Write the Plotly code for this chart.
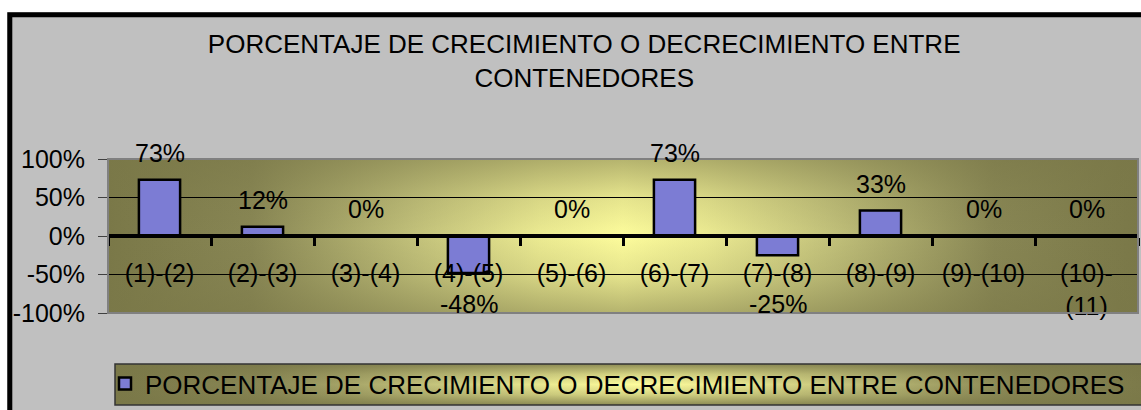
import base64
import plotly.graph_objects as go

# ---------------- data ----------------
categories = ["(1)-(2)", "(2)-(3)", "(3)-(4)", "(4)-(5)", "(5)-(6)",
              "(6)-(7)", "(7)-(8)", "(8)-(9)", "(9)-(10)", "(10)-(11)"]
tick_labels = ["(1)-(2)", "(2)-(3)", "(3)-(4)", "(4)-(5)", "(5)-(6)",
               "(6)-(7)", "(7)-(8)", "(8)-(9)", "(9)-(10)", "(10)-<br>(11)"]
values = [0.73, 0.12, 0.0, -0.48, 0.0, 0.73, -0.25, 0.33, 0.0, 0.0]
series_name = "PORCENTAJE DE CRECIMIENTO O DECRECIMIENTO ENTRE CONTENEDORES"
title_text = "PORCENTAJE DE CRECIMIENTO O DECRECIMIENTO ENTRE<br>CONTENEDORES"
y_tickvals = [-1, -0.5, 0, 0.5, 1]
y_ticktext = ["-100%", "-50%", "0%", "50%", "100%"]

# ---------------- layout geometry (pixels) ----------------
W, H = 1141, 410
ML, MR, MT, MB = 108, 3, 159, 97
PW, PH = W - ML - MR, H - MT - MB
FONT = "Liberation Sans, Arial, sans-serif"


def px_x(px):
    return (px - ML) / PW


def px_y(py):
    return (H - MB - py) / PH


def gradient_uri(edge, center, v_edge_op, v_mid_op):
    svg = f'''<svg xmlns="http://www.w3.org/2000/svg" width="1000" height="1000" viewBox="0 0 1000 1000" preserveAspectRatio="none">
<defs>
<linearGradient id="h" x1="0" y1="0" x2="1" y2="0">
<stop offset="0" stop-color="{edge}"/>
<stop offset="0.14" stop-color="#888654"/>
<stop offset="0.3" stop-color="#c3c27b"/>
<stop offset="0.42" stop-color="#eceb92"/>
<stop offset="0.5" stop-color="{center}"/>
<stop offset="0.58" stop-color="#eceb92"/>
<stop offset="0.7" stop-color="#c3c27b"/>
<stop offset="0.86" stop-color="#888654"/>
<stop offset="1" stop-color="{edge}"/>
</linearGradient>
<linearGradient id="v" x1="0" y1="0" x2="0" y2="1">
<stop offset="0" stop-color="{edge}" stop-opacity="{v_edge_op}"/>
<stop offset="0.25" stop-color="{edge}" stop-opacity="{v_mid_op}"/>
<stop offset="0.5" stop-color="{edge}" stop-opacity="0"/>
<stop offset="0.75" stop-color="{edge}" stop-opacity="{v_mid_op}"/>
<stop offset="1" stop-color="{edge}" stop-opacity="{v_edge_op}"/>
</linearGradient>
</defs>
<rect x="0" y="0" width="1000" height="1000" fill="url(#h)"/>
<rect x="0" y="0" width="1000" height="1000" fill="url(#v)"/>
</svg>'''
    return "data:image/svg+xml;base64," + base64.b64encode(svg.encode()).decode()


EDGE, CENTER = "#7a7848", "#fdfc9c"
BAR_COLOR = "#7c7cd4"

fig = go.Figure()
fig.add_trace(go.Bar(
    x=categories, y=values, name=series_name,
    marker=dict(color=BAR_COLOR, line=dict(color="black", width=2.5)),
    width=0.4, showlegend=True,
))

# data labels
NEG_LABEL_Y = -0.885
annotations = []
for c, v in zip(categories, values):
    txt = f"{round(v * 100)}%"
    if v >= 0:
        annotations.append(dict(x=c, y=v, xref="x", yref="y", text=txt, showarrow=False,
                                yanchor="middle", yshift=27,
                                font=dict(family=FONT, size=25, color="black")))
    else:
        annotations.append(dict(x=c, y=min(v, NEG_LABEL_Y), xref="x", yref="y", text=txt,
                                showarrow=False, yanchor="middle", yshift=0,
                                font=dict(family=FONT, size=25, color="black")))

shapes = [
    # white margins outside the chart border
    dict(type="rect", xref="paper", yref="paper", x0=px_x(-50), x1=px_x(7.3),
         y0=px_y(500), y1=px_y(-50), fillcolor="white", line=dict(width=0), layer="below"),
    dict(type="rect", xref="paper", yref="paper", x0=px_x(-50), x1=px_x(1300),
         y0=px_y(12.3), y1=px_y(-50), fillcolor="white", line=dict(width=0), layer="below"),
    # black chart border
    dict(type="rect", xref="paper", yref="paper", x0=px_x(9.8), x1=px_x(1300),
         y0=px_y(500), y1=px_y(14.8), fillcolor="rgba(0,0,0,0)",
         line=dict(color="black", width=5), layer="below"),
    # legend box border
    dict(type="rect", xref="paper", yref="paper", x0=px_x(115), x1=px_x(1160),
         y0=px_y(405), y1=px_y(364), fillcolor="rgba(0,0,0,0)",
         line=dict(color="#333333", width=1.5), layer="below"),
    # plot-area border
    dict(type="rect", xref="paper", yref="paper", x0=0, x1=1, y0=0, y1=1,
         fillcolor="rgba(0,0,0,0)", line=dict(color="#808080", width=2), layer="above"),
]

images = [
    dict(source=gradient_uri(EDGE, CENTER, 0.55, 0.18), xref="paper", yref="paper",
         x=0, y=1, sizex=1, sizey=1, xanchor="left", yanchor="top",
         sizing="stretch", layer="below"),
    dict(source=gradient_uri(EDGE, CENTER, 0.85, 0.3), xref="paper", yref="paper",
         x=px_x(115), y=px_y(364), sizex=px_x(1160) - px_x(115), sizey=px_y(364) - px_y(405),
         xanchor="left", yanchor="top", sizing="stretch", layer="below"),
]

fig.update_layout(
    width=W, height=H,
    margin=dict(l=ML, r=MR, t=MT, b=MB, pad=0, autoexpand=False),
    paper_bgcolor="#c0c0c0",
    plot_bgcolor="rgba(0,0,0,0)",
    font=dict(family=FONT, size=25, color="black"),
    title=dict(text=title_text, x=0.512, xref="container", xanchor="center",
               y=1 - 53 / H, yref="container", yanchor="top",
               font=dict(family=FONT, size=26, color="black")),
    xaxis=dict(
        type="category", categoryorder="array", categoryarray=categories,
        tickvals=categories, ticktext=tick_labels,
        anchor="free", position=0.5,
        showline=True, linecolor="black", linewidth=4,
        ticks="outside", tickson="boundaries", ticklen=8, tickwidth=3, tickcolor="black",
        ticklabelstandoff=14,
        showgrid=False, zeroline=False,
        tickfont=dict(family=FONT, size=25, color="black"),
    ),
    yaxis=dict(
        range=[-1, 1], tickvals=y_tickvals, ticktext=y_ticktext,
        showgrid=True, gridcolor="black", gridwidth=1, zeroline=False,
        showline=True, linecolor="#808080", linewidth=1,
        ticks="outside", ticklen=9, tickwidth=1, tickcolor="#404040",
        ticklabelstandoff=8,
        tickfont=dict(family=FONT, size=25, color="black"),
    ),
    bargap=0.6,
    showlegend=True,
    legend=dict(x=px_x(105), y=px_y(360), xanchor="left", yanchor="top",
                bgcolor="rgba(0,0,0,0)", borderwidth=0,
                font=dict(family=FONT, size=26, color="black")),
    annotations=annotations,
    shapes=shapes,
    images=images,
)

fig.write_html(
    "out.html",
    config={"displayModeBar": False},
    post_script="document.body.style.margin='0';document.body.style.overflow='hidden';"
                "window.dispatchEvent(new Event('resize'));",
)
